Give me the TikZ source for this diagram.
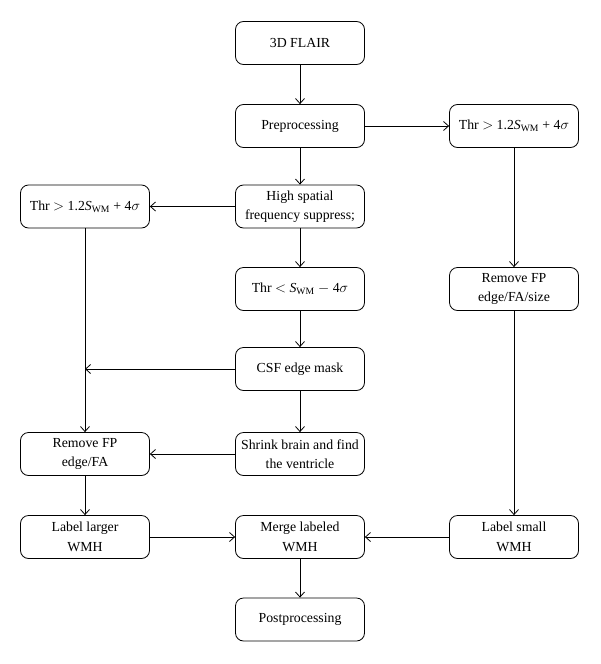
\documentclass[tikz,border=0pt]{standalone}
\usepackage{fontspec}
\setmainfont{Liberation Serif}
\usetikzlibrary{arrows.meta,calc}
\begin{document}
\begin{tikzpicture}[x=1pt,y=-1pt,
  box/.style={draw,line width=0.8pt,rounded corners=8pt,minimum width=129pt,minimum height=43pt,align=center,inner sep=1pt,font=\fontsize{13.8}{19.5}\selectfont},
  arr/.style={line width=0.8pt,-{Straight Barb[length=5pt,width=9pt,line width=0.8pt]}}]
\useasboundingbox (0,0) rectangle (600,664);
% center column
\node[box] (flair) at (300,43) {3D FLAIR};
\node[box] (pre) at (300,126) {Preprocessing};
\node[box] (hsf) at (300,206.5) {High spatial\\frequency suppress;};
\node[box] (thrl) at (300,289) {Thr $<$ \textit{S}$_{\mathrm{WM}}$ $-$ 4$\sigma$};
\node[box] (csf) at (300,369) {CSF edge mask};
\node[box] (shr) at (300,454) {Shrink brain and find\\the ventricle};
\node[box] (mrg) at (300,537) {Merge labeled\\WMH};
\node[box] (post) at (300,619.5) {Postprocessing};
% left column
\node[box] (lthr) at (85,206.5) {Thr $>$ 1.2\textit{S}$_{\mathrm{WM}}$ + 4$\sigma$};
\node[box] (lrem) at (85,454) {Remove FP\\edge/FA};
\node[box] (llab) at (85,537) {Label larger\\WMH};
% right column
\node[box] (rthr) at (514,126) {Thr $>$ 1.2\textit{S}$_{\mathrm{WM}}$ + 4$\sigma$};
\node[box] (rrem) at (514,289) {Remove FP\\edge/FA/size};
\node[box] (rlab) at (514,537) {Label small\\WMH};
% connectors
\draw[arr] (flair) -- (pre);
\draw[arr] (pre) -- (rthr);
\draw[arr] (pre) -- (hsf);
\draw[arr] (hsf) -- (lthr);
\draw[arr] (hsf) -- (thrl);
\draw[arr] (thrl) -- (csf);
\draw[arr] (csf) -- (shr);
\coordinate (jn) at (csf.west -| lthr.south);
\draw[arr] (csf.west) -- (jn);
\draw[arr] (lthr) -- (lrem);
\draw[arr] (shr) -- (lrem);
\draw[arr] (lrem) -- (llab);
\draw[arr] (rthr) -- (rrem);
\draw[arr] (rrem) -- (rlab);
\draw[arr] (llab) -- (mrg);
\draw[arr] (rlab) -- (mrg);
\draw[arr] (mrg) -- (post);
\end{tikzpicture}
\end{document}
